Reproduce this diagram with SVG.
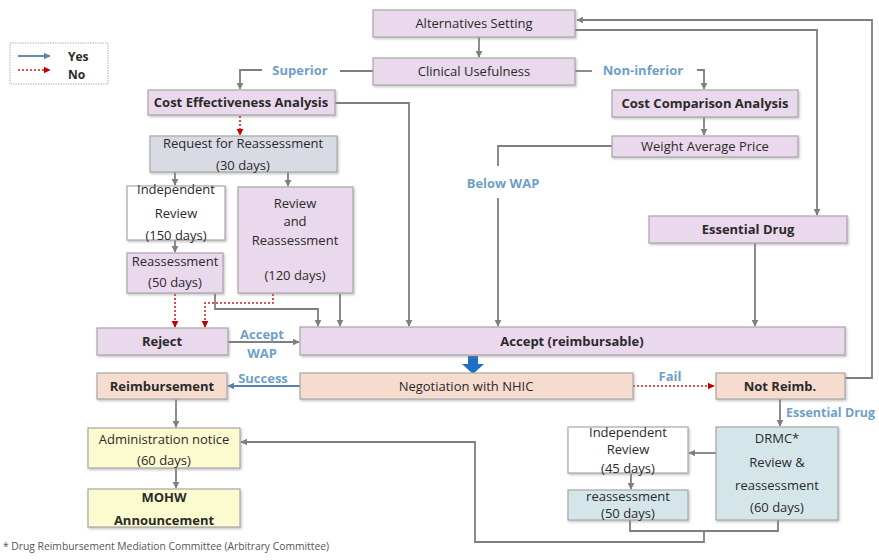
<svg xmlns="http://www.w3.org/2000/svg" width="879" height="560" viewBox="0 0 879 560">
<defs>
<style>
.box{stroke:#a8a8a8;stroke-width:1.2;filter:url(#sh)}
.pink{fill:#ead8ec}
.gray{fill:#d9dbe4}
.peach{fill:#f6dccf}
.yellow{fill:#fcfbd0}
.lblue{fill:#d4e6ea}
.white{fill:#ffffff}
text{font-family:"Open Sans","Liberation Sans",sans-serif;font-size:13px;fill:#2a2a2a;text-anchor:middle}
.b{font-weight:bold}
.lbl{fill:#6f9fc8;font-weight:bold}
.c{fill:none;stroke:#7f7f7f;stroke-width:1.8}
.yes{fill:none;stroke:#5a7fa8;stroke-width:1.8}
.no{fill:none;stroke:#d02020;stroke-width:1.6;stroke-dasharray:2 2}
</style>
<filter id="sh" x="-10%" y="-10%" width="120%" height="130%">
<feDropShadow dx="1.2" dy="1.5" stdDeviation="0.8" flood-color="#888" flood-opacity="0.5"/>
</filter>
<marker id="ag" viewBox="0 0 10 10" refX="9" refY="5" markerWidth="4" markerHeight="4" orient="auto" markerUnits="strokeWidth"><path d="M0,0 L10,5 L0,10 z" fill="#7f7f7f"/></marker>
<marker id="ar" viewBox="0 0 10 10" refX="9" refY="5" markerWidth="4.5" markerHeight="4.5" orient="auto" markerUnits="strokeWidth"><path d="M0,0 L10,5 L0,10 z" fill="#c00000"/></marker>
<marker id="ab" viewBox="0 0 10 10" refX="9" refY="5" markerWidth="4" markerHeight="4" orient="auto" markerUnits="strokeWidth"><path d="M0,0 L10,5 L0,10 z" fill="#5a7fa8"/></marker>
</defs>
<rect width="879" height="560" fill="#ffffff"/>

<g id="legend">
<rect x="10" y="43" width="98" height="41" fill="#fff" stroke="#b0b0b0" stroke-width="1" stroke-dasharray="1.5 1"/>
<line x1="18" y1="56" x2="50" y2="56" class="yes" marker-end="url(#ab)"/>
<line x1="18" y1="70" x2="50" y2="70" class="no" marker-end="url(#ar)"/>
<text x="68" y="61" class="b" style="text-anchor:start;font-size:12px">Yes</text>
<text x="68" y="79" class="b" style="text-anchor:start;font-size:12px">No</text>
</g>

<g id="connectors">
<path class="c" d="M479,37 V57" marker-end="url(#ag)"/>
<path class="c" d="M373,71 H340"/>
<path class="c" d="M262,70 H240 V89" marker-end="url(#ag)"/>
<path class="c" d="M575,71 H592"/>
<path class="c" d="M697,70 H704 V89" marker-end="url(#ag)"/>
<path class="c" d="M704,117 V135" marker-end="url(#ag)"/>
<path class="c" d="M612,146 H498 V166"/>
<path class="c" d="M498,198 V326" marker-end="url(#ag)"/>
<path class="c" d="M335,103 H409 V326" marker-end="url(#ag)"/>
<path class="c" d="M575,30 H817 V215" marker-end="url(#ag)"/>
<path class="c" d="M845,378 H872 V20 H577" marker-end="url(#ag)"/>
<path class="c" d="M755,243 V326" marker-end="url(#ag)"/>
<path class="no" d="M240,116 V135" marker-end="url(#ar)"/>
<path class="c" d="M175,172 V185" marker-end="url(#ag)"/>
<path class="c" d="M288,172 V186" marker-end="url(#ag)"/>
<path class="c" d="M175,240 V252" marker-end="url(#ag)"/>
<path class="no" d="M175,294 V327" marker-end="url(#ar)"/>
<path class="no" d="M273,294 V303 H205 V327" marker-end="url(#ar)"/>
<path class="c" d="M215,294 V309 H318 V326" marker-end="url(#ag)"/>
<path class="c" d="M340,294 V326" marker-end="url(#ag)"/>
<path class="c" d="M228,342 H299" marker-end="url(#ag)"/>
<polygon points="468,356 478,356 478,364 484,364 473,374 462,364 468,364" fill="#1f6fc5"/>
<path class="yes" d="M300,386 H228" marker-end="url(#ab)"/>
<path class="no" d="M633,386 H714" marker-end="url(#ar)"/>
<path class="c" d="M780,399 V426" marker-end="url(#ag)"/>
<path class="c" d="M716,453 H689" marker-end="url(#ag)"/>
<path class="c" d="M631,473 V489" marker-end="url(#ag)"/>
<path class="c" d="M630,520 V531 H778 V520"/>
<path class="c" d="M704,531 V542 H475 V442 H241" marker-end="url(#ag)"/>
<path class="c" d="M176,399 V427" marker-end="url(#ag)"/>
<path class="c" d="M176,468 V488" marker-end="url(#ag)"/>
<text x="300" y="75" class="lbl">Superior</text>
<text x="643" y="75" class="lbl">Non-inferior</text>
<text x="503" y="188" class="lbl">Below WAP</text>
<text x="262" y="339" class="lbl">Accept</text>
<text x="262" y="358" class="lbl">WAP</text>
<text x="263" y="383" class="lbl">Success</text>
<text x="670" y="381" class="lbl">Fail</text>
<text x="786" y="417" class="lbl" style="text-anchor:start;font-size:12.5px">Essential Drug</text>
</g>

<g id="alternatives"><rect x="373" y="10" width="202" height="27" class="box pink"/><text x="474" y="28">Alternatives Setting</text></g>
<g id="clinical"><rect x="373" y="58" width="202" height="27" class="box pink"/><text x="474" y="76">Clinical Usefulness</text></g>
<g id="cea"><rect x="148" y="90" width="187" height="25" class="box pink"/><text x="241" y="107" class="b">Cost Effectiveness Analysis</text></g>
<g id="cca"><rect x="612" y="90" width="186" height="27" class="box pink"/><text x="705" y="108" class="b">Cost Comparison Analysis</text></g>
<g id="wap"><rect x="612" y="136" width="186" height="21" class="box pink"/><text x="705" y="151">Weight Average Price</text></g>
<g id="request"><rect x="150" y="136" width="187" height="36" class="box gray"/><text x="243" y="148">Request for Reassessment</text><text x="243" y="170">(30 days)</text></g>
<g id="indep150"><rect x="127" y="186" width="98" height="54" class="box white"/><text x="176" y="194">Independent</text><text x="176" y="218">Review</text><text x="176" y="240">(150 days)</text></g>
<g id="reassess50"><rect x="127" y="253" width="96" height="40" class="box pink"/><text x="175" y="266">Reassessment</text><text x="175" y="287">(50 days)</text></g>
<g id="review120"><rect x="238" y="187" width="115" height="106" class="box pink"/><text x="295" y="208">Review</text><text x="295" y="226">and</text><text x="295" y="245">Reassessment</text><text x="295" y="280">(120 days)</text></g>
<g id="reject"><rect x="97" y="328" width="131" height="27" class="box pink"/><text x="162" y="346" class="b">Reject</text></g>
<g id="accept"><rect x="300" y="327" width="545" height="28" class="box pink"/><text x="572" y="346" class="b">Accept (reimbursable)</text></g>
<g id="essential"><rect x="649" y="216" width="198" height="27" class="box pink"/><text x="748" y="234" class="b">Essential Drug</text></g>
<g id="negotiation"><rect x="300" y="373" width="333" height="26" class="box peach"/><text x="466" y="391">Negotiation with NHIC</text></g>
<g id="reimbursement"><rect x="97" y="373" width="130" height="26" class="box peach"/><text x="162" y="391" class="b">Reimbursement</text></g>
<g id="notreimb"><rect x="716" y="373" width="129" height="26" class="box peach"/><text x="780" y="391" class="b">Not Reimb.</text></g>
<g id="drmc"><rect x="716" y="427" width="122" height="93" class="box lblue"/><text x="777" y="443">DRMC*</text><text x="777" y="467">Review  &amp;</text><text x="777" y="490">reassessment</text><text x="777" y="512">(60 days)</text></g>
<g id="indep45"><rect x="568" y="427" width="120" height="46" class="box white"/><text x="628" y="437">Independent</text><text x="628" y="454">Review</text><text x="628" y="473">(45 days)</text></g>
<g id="reassess50b"><rect x="568" y="490" width="120" height="30" class="box lblue"/><text x="628" y="501">reassessment</text><text x="628" y="518">(50 days)</text></g>
<g id="admin"><rect x="88" y="428" width="152" height="40" class="box yellow"/><text x="164" y="444">Administration notice</text><text x="164" y="465">(60 days)</text></g>
<g id="mohw"><rect x="88" y="489" width="152" height="38" class="box yellow"/><text x="164" y="502" class="b">MOHW</text><text x="164" y="525" class="b">Announcement</text></g>

<text x="3" y="550" style="text-anchor:start;font-size:10.3px;fill:#555">* Drug Reimbursement Mediation Committee (Arbitrary Committee)</text>
</svg>
